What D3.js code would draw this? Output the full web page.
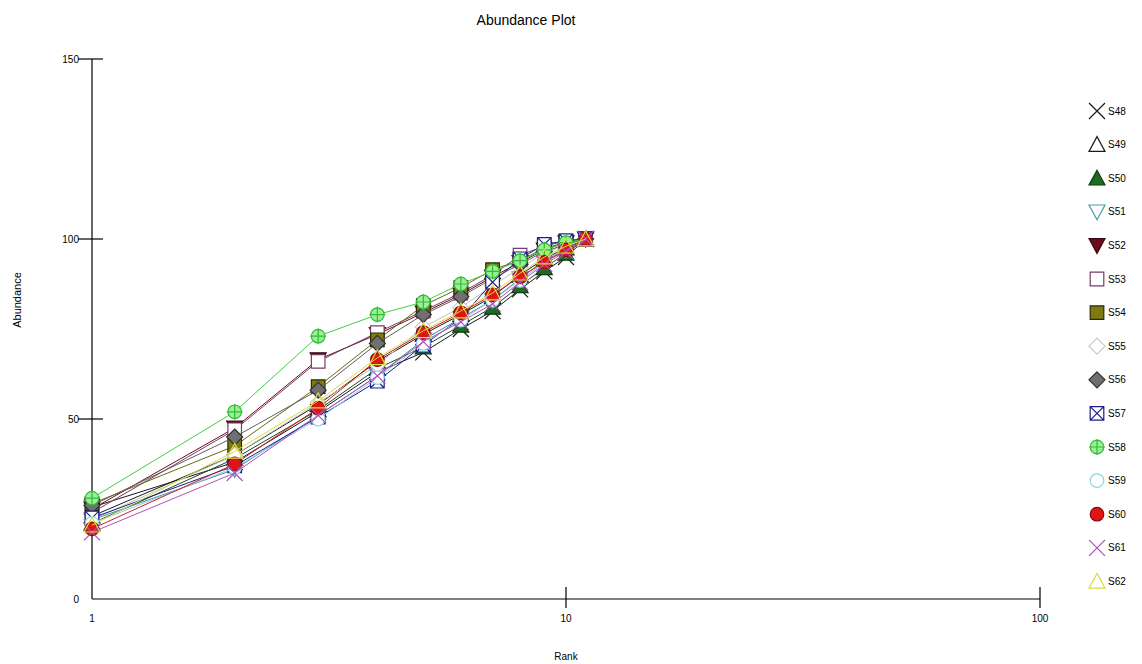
<!DOCTYPE html>
<html>
<head>
<meta charset="utf-8">
<script src="https://cdn.jsdelivr.net/npm/d3@7"></script>
<style>
  body { margin: 0; background: #fff; }
  svg { display: block; }
  text { font-family: "Liberation Sans", Arial, sans-serif; fill: #000; }
</style>
</head>
<body>
<svg id="chart" width="1142" height="664"></svg>
<script>
// Rank of each species (1..11)
const ranks = [1, 2, 3, 4, 5, 6, 7, 8, 9, 10, 11];

// Cumulative abundance (%) per sample, by rank
const S48 = [25.5, 38.0, 52.0, 63.0, 68.5, 75.0, 80.0, 86.0, 91.0, 95.0, 100];
const S49 = [23.0, 40.0, 54.0, 66.0, 73.5, 79.0, 84.0, 90.0, 94.5, 97.5, 100];
const S50 = [21.0, 39.0, 52.5, 64.0, 70.0, 76.0, 81.0, 87.0, 92.0, 96.0, 100];
const S51 = [22.0, 36.0, 51.0, 62.0, 72.0, 78.0, 83.0, 89.0, 94.0, 97.0, 100];
const S52 = [25.0, 47.5, 66.5, 73.5, 79.5, 84.5, 89.5, 93.5, 97.0, 99.0, 100];
const S53 = [24.0, 47.0, 66.0, 74.0, 80.0, 85.0, 90.0, 95.5, 98.0, 99.5, 100];
const S54 = [26.5, 42.5, 59.0, 72.0, 81.5, 86.5, 91.5, 94.0, 97.5, 99.0, 100];
const S55 = [22.0, 40.0, 54.5, 65.0, 75.5, 81.0, 87.0, 92.0, 96.0, 98.5, 100];
const S56 = [26.0, 45.0, 58.0, 71.0, 79.0, 84.0, 89.0, 93.0, 96.5, 98.5, 100];
const S57 = [22.5, 37.0, 50.5, 60.5, 70.5, 78.0, 88.0, 94.5, 98.5, 99.5, 100];
const S58 = [28.0, 52.0, 73.0, 79.0, 82.5, 87.5, 91.0, 94.0, 97.0, 99.0, 100];
const S59 = [21.0, 36.5, 50.0, 61.5, 71.0, 77.5, 83.0, 88.5, 93.5, 97.0, 100];
const S60 = [19.5, 37.5, 53.0, 66.5, 74.0, 79.5, 84.5, 89.5, 93.5, 97.0, 100];
const S61 = [18.5, 35.0, 51.0, 62.0, 71.5, 77.0, 82.0, 88.0, 93.0, 96.5, 100];
const S62 = [20.5, 41.0, 55.0, 67.0, 74.5, 80.0, 85.0, 90.5, 95.0, 98.0, 100];

const sampleNames = ["S48","S49","S50","S51","S52","S53","S54","S55","S56","S57","S58","S59","S60","S61","S62"];
const sampleValues = [S48,S49,S50,S51,S52,S53,S54,S55,S56,S57,S58,S59,S60,S61,S62];

const xTicks = [1, 10, 100];
const yTicks = [0, 50, 100, 150];

// Marker style for each sample: shape, stroke, fill, line colour
const styles = {
  S48: { shape: "x",        stroke: "#1a1a1a", fill: "none",    line: "#1a1a1a" },
  S49: { shape: "triUp",    stroke: "#1a1a1a", fill: "#ffffff", line: "#1a1a1a" },
  S50: { shape: "triUp",    stroke: "#0f3a12", fill: "#1e6b22", line: "#1e4a20" },
  S51: { shape: "triDown",  stroke: "#4a9aa8", fill: "#ffffff", line: "#4a8a98" },
  S52: { shape: "triDown",  stroke: "#3a0a10", fill: "#6b0d1a", line: "#6b0d1a" },
  S53: { shape: "square",   stroke: "#7a3a6a", fill: "#ffffff", line: "#7a3a6a" },
  S54: { shape: "square",   stroke: "#2a2a08", fill: "#7d7a12", line: "#6a6a10" },
  S55: { shape: "diamond",  stroke: "#c8c8c8", fill: "#ffffff", line: "#c0c0c0" },
  S56: { shape: "diamond",  stroke: "#303030", fill: "#707070", line: "#606060" },
  S57: { shape: "squareX",  stroke: "#1c1c8a", fill: "#ffffff", line: "#1c1c8a" },
  S58: { shape: "circPlus", stroke: "#33bb33", fill: "#99ee99", line: "#44cc44" },
  S59: { shape: "circle",   stroke: "#88d8e8", fill: "#ffffff", line: "#88d0e0" },
  S60: { shape: "circle",   stroke: "#8a0a0a", fill: "#dd1515", line: "#cc2020" },
  S61: { shape: "x",        stroke: "#b050b8", fill: "none",    line: "#b050b8" },
  S62: { shape: "triUp",    stroke: "#d8dc40", fill: "none",    line: "#d8dc40" }
};

const svg = d3.select("#chart");

const x = d3.scaleLog().domain([1, 100]).range([92, 1040]);
const y = d3.scaleLinear().domain([0, 150]).range([599, 59]);

// Marker path generator, centred on (0,0) with half-size h
function markerPath(shape, h) {
  const p = d3.path();
  switch (shape) {
    case "x":
      p.moveTo(-h, -h); p.lineTo(h, h); p.moveTo(-h, h); p.lineTo(h, -h); break;
    case "triUp":
      p.moveTo(0, -h); p.lineTo(h, h * 0.85); p.lineTo(-h, h * 0.85); p.closePath(); break;
    case "triDown":
      p.moveTo(0, h); p.lineTo(h, -h * 0.85); p.lineTo(-h, -h * 0.85); p.closePath(); break;
    case "square":
      p.rect(-h * 0.85, -h * 0.85, h * 1.7, h * 1.7); break;
    case "squareX":
      p.rect(-h * 0.85, -h * 0.85, h * 1.7, h * 1.7);
      p.moveTo(-h * 0.85, -h * 0.85); p.lineTo(h * 0.85, h * 0.85);
      p.moveTo(-h * 0.85, h * 0.85); p.lineTo(h * 0.85, -h * 0.85); break;
    case "diamond":
      p.moveTo(0, -h); p.lineTo(h, 0); p.lineTo(0, h); p.lineTo(-h, 0); p.closePath(); break;
    case "circle":
      p.arc(0, 0, h * 0.85, 0, Math.PI * 2); p.closePath(); break;
    case "circPlus":
      p.arc(0, 0, h * 0.85, 0, Math.PI * 2); p.closePath();
      p.moveTo(-h, 0); p.lineTo(h, 0); p.moveTo(0, -h); p.lineTo(0, h); break;
  }
  return p.toString();
}

// Title and axis titles
svg.append("text").attr("x", 526).attr("y", 25).attr("text-anchor", "middle")
  .style("font-size", "14px").text("Abundance Plot");
svg.append("text").attr("x", 566).attr("y", 660).attr("text-anchor", "middle")
  .style("font-size", "10px").text("Rank");
svg.append("text").attr("transform", "translate(21,300) rotate(-90)")
  .attr("text-anchor", "middle").style("font-size", "11px").text("Abundance");

// Axes
const axes = svg.append("g").attr("stroke", "#000").attr("stroke-width", 1.2);
axes.append("line").attr("x1", x(1)).attr("x2", x(1)).attr("y1", y(150)).attr("y2", y(0));
axes.append("line").attr("x1", x(1)).attr("x2", x(100)).attr("y1", y(0)).attr("y2", y(0));

yTicks.filter(t => t > 0).forEach(t => {
  axes.append("line").attr("x1", x(1) - 14).attr("x2", x(1) + 11).attr("y1", y(t)).attr("y2", y(t));
});
yTicks.forEach(t => {
  svg.append("text").attr("x", 79).attr("y", y(t) + 3.5)
    .attr("text-anchor", "end").style("font-size", "10px").text(t);
});
xTicks.filter(t => t > 1).forEach(t => {
  axes.append("line").attr("x1", x(t)).attr("x2", x(t)).attr("y1", y(0) - 12).attr("y2", y(0) + 9);
});
xTicks.forEach(t => {
  svg.append("text").attr("x", x(t)).attr("y", 622)
    .attr("text-anchor", "middle").style("font-size", "10px").text(t);
});

// Series lines then markers, drawn in sample order
const line = d3.line().x((d, i) => x(ranks[i])).y(d => y(d));
const plot = svg.append("g");
sampleNames.forEach((name, k) => {
  const st = styles[name];
  const vals = sampleValues[k];
  const g = plot.append("g");
  g.append("path").attr("d", line(vals)).attr("fill", "none")
    .attr("stroke", st.line).attr("stroke-width", 1);
  g.selectAll("path.m").data(vals).join("path").attr("class", "m")
    .attr("transform", (d, i) => `translate(${x(ranks[i])},${y(d)})`)
    .attr("d", markerPath(st.shape, 8))
    .attr("fill", st.fill).attr("stroke", st.stroke).attr("stroke-width", 1.2);
});

// Legend
const legend = svg.append("g");
sampleNames.forEach((name, k) => {
  const st = styles[name];
  const ly = 111 + k * 33.6;
  legend.append("path").attr("transform", `translate(1097,${ly})`)
    .attr("d", markerPath(st.shape, 8))
    .attr("fill", st.fill)
    .attr("stroke", st.stroke).attr("stroke-width", 1.2);
  legend.append("text").attr("x", 1108).attr("y", ly + 3.5)
    .style("font-size", "10px").text(name);
});
</script>
</body>
</html>
